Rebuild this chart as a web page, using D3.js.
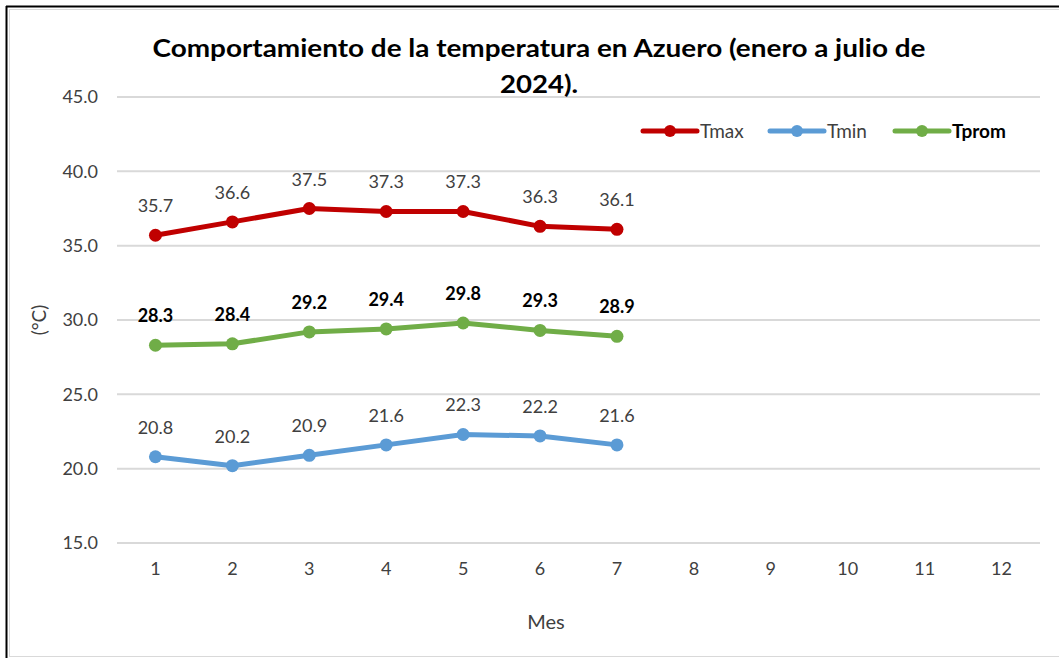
<!DOCTYPE html>
<html><head><meta charset="utf-8">
<script src="https://cdn.jsdelivr.net/npm/d3@7/dist/d3.min.js"></script>
<style>body{margin:0;background:#fff}svg{display:block}text{font-family:Lato,"Open Sans",sans-serif}</style>
</head><body>
<svg id="c" width="1059" height="658"></svg>
<script>
const months = [1,2,3,4,5,6,7,8,9,10,11,12];
const tmax = [35.7,36.6,37.5,37.3,37.3,36.3,36.1];
const tmin = [20.8,20.2,20.9,21.6,22.3,22.2,21.6];
const tprom = [28.3,28.4,29.2,29.4,29.8,29.3,28.9];
const yTicks = [15,20,25,30,35,40,45];
const seriesNames = ["Tmax","Tmin","Tprom"];
const colors = ["#C00000","#5B9BD5","#70AD47"];

const svg = d3.select("#c");
svg.append("rect").attr("x",0).attr("y",0).attr("width",1059).attr("height",658).attr("fill","#fff");
// outer border
svg.append("line").attr("x1",6.5).attr("x2",6.5).attr("y1",6).attr("y2",658).attr("stroke","#000").attr("stroke-width",2);
svg.append("line").attr("x1",6).attr("x2",1059).attr("y1",6.5).attr("y2",6.5).attr("stroke","#000").attr("stroke-width",2);
svg.append("rect").attr("x",9.5).attr("y",9.5).attr("width",1060).attr("height",647).attr("fill","none").attr("stroke","#D9D9D9").attr("stroke-width",1);

const x = d3.scaleBand().domain(months).range([117,1040]).padding(0);
const y = d3.scaleLinear().domain([15,45]).range([543,97]);
const cx = d => x(d)+x.bandwidth()/2;

// gridlines
svg.append("g").selectAll("line").data(yTicks).join("line")
  .attr("x1",117).attr("x2",1040).attr("y1",d=>y(d)).attr("y2",d=>y(d))
  .attr("stroke","#D9D9D9").attr("stroke-width",2);

// y axis labels
const yAxis = d3.axisLeft(y).tickValues(yTicks).tickFormat(d3.format(".1f")).tickSize(0).tickPadding(0);
const ga = svg.append("g").attr("transform","translate(98,0)").call(yAxis);
ga.select(".domain").remove();
ga.selectAll("text").attr("font-size",18).attr("fill","#404040").attr("font-family","Lato,'Open Sans',sans-serif");

// x axis labels
const xAxis = d3.axisBottom(x).tickSize(0).tickPadding(0);
const gx = svg.append("g").attr("transform","translate(0,562)").call(xAxis);
gx.select(".domain").remove();
gx.selectAll("text").attr("font-size",18).attr("fill","#404040").attr("font-family","Lato,'Open Sans',sans-serif");

// axis titles
svg.append("text").attr("x",546).attr("y",629).attr("text-anchor","middle").attr("font-size",20).attr("fill","#404040").text("Mes");
svg.append("text").attr("transform","translate(46,320) rotate(-90)").attr("text-anchor","middle").attr("font-size",19).attr("fill","#404040").text("(°C)");

// title
svg.append("text").attr("x",539).attr("y",57).attr("text-anchor","middle").attr("font-size",25).attr("font-weight","bold").attr("fill","#000")
  .attr("textLength",773).attr("lengthAdjust","spacingAndGlyphs")
  .text("Comportamiento de la temperatura en Azuero (enero a julio de");
svg.append("text").attr("x",539).attr("y",93).attr("text-anchor","middle").attr("font-size",25).attr("font-weight","bold").attr("fill","#000")
  .attr("textLength",78).attr("lengthAdjust","spacingAndGlyphs").text("2024).");

const line = d3.line().x((d,i)=>cx(months[i])).y(d=>y(d));
const all = [tmax,tmin,tprom];
const bold = [false,false,true];
all.forEach((s,k)=>{
  svg.append("path").datum(s).attr("d",line).attr("fill","none").attr("stroke",colors[k]).attr("stroke-width",5).attr("stroke-linejoin","round").attr("stroke-linecap","round");
  svg.append("g").selectAll("circle").data(s).join("circle")
    .attr("cx",(d,i)=>cx(months[i])).attr("cy",d=>y(d)).attr("r",6.5).attr("fill",colors[k]);
  svg.append("g").selectAll("text").data(s).join("text")
    .attr("x",(d,i)=>cx(months[i])).attr("y",d=>y(d)-23).attr("text-anchor","middle")
    .attr("font-size",18).attr("font-weight",bold[k]?"bold":"normal").attr("fill",bold[k]?"#000":"#404040")
    .text(d=>d.toFixed(1));
});

// legend
const legX = [643,770,895];
seriesNames.forEach((n,k)=>{
  const g = svg.append("g").attr("transform",`translate(${legX[k]},131)`);
  g.append("line").attr("x1",0).attr("x2",54).attr("y1",0).attr("y2",0).attr("stroke",colors[k]).attr("stroke-width",5).attr("stroke-linecap","round");
  g.append("circle").attr("cx",27).attr("cy",0).attr("r",6).attr("fill",colors[k]);
  g.append("text").attr("x",57).attr("y",7).attr("font-size",19).attr("font-weight",bold[k]?"bold":"normal").attr("fill",bold[k]?"#000":"#404040").text(n);
});
</script>
</body></html>
